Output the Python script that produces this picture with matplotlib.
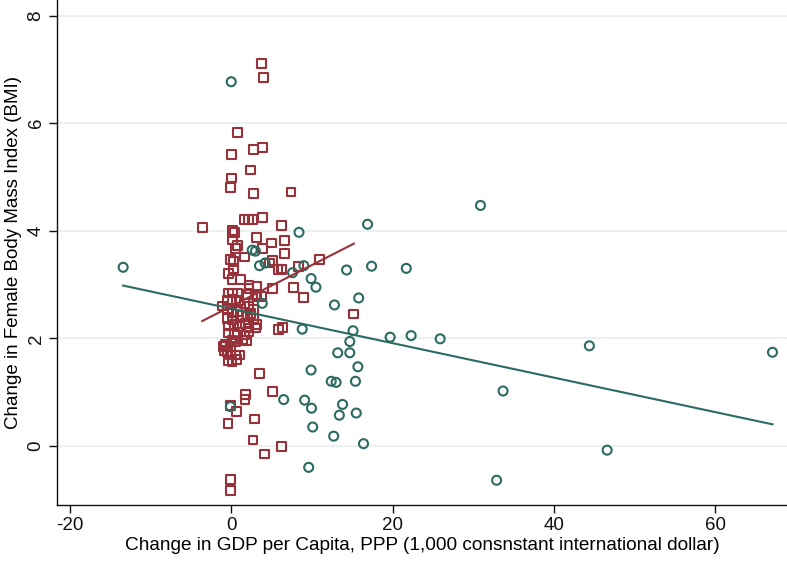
import matplotlib
matplotlib.use("Agg")
import matplotlib.pyplot as plt
import numpy as np

plt.rcParams['font.family'] = ['Liberation Sans', 'DejaVu Sans']
plt.rcParams['axes.unicode_minus'] = False

# Group A (red squares): change in GDP per capita, change in female BMI
sq_x = [3.8, 4.0,
        0.8, 0.0, 2.8, 3.9, 2.35, 0.05, -0.1, 2.8, 7.4,
        1.6, 2.1, 2.6, 3.85, -3.6, 6.2,
        0.2, 0.4, 3.1, 0.2, 6.6, 0.8, 5.0, 3.9, 6.6, 1.6, 0.55,
        -0.1, 0.3, 5.1, 4.7, 10.9, 8.3, 6.3,
        0.3, -0.3, 5.8, 6.2,
        0.1, 1.15, 2.2, 3.2, 2.2, 5.1, 7.7, 9.0, 3.0,
        -0.3, 0.2, 0.75, 2.0, 3.2, 3.8,
        -0.5, 0.1, 0.95, 1.6, 2.2, 2.8, -1.1, -0.5,
        0.1, 0.75, 1.4, 2.0, 2.4, 15.2, 2.8,
        -0.5, 0.1, -0.3, 0.35, 1.0, 1.8, 2.2, 3.0, 3.2, 5.9, 6.4,
        -0.3, 0.4, 0.8, 1.6, 2.2,
        0.1, 0.5, 1.4, 1.9,
        -0.7, -0.1, -0.9, -0.5, -0.95,
        -0.1, 0.5, 1.0, -0.3, 0.1, 0.7,
        3.5, 5.1, 1.8, 1.7, -0.1, 0.7, -0.4, 2.9, 2.7, 4.1, 6.2, -0.1, -0.1]
sq_y = [7.11, 6.85,
        5.82, 5.41, 5.51, 5.55, 5.13, 4.98, 4.81, 4.69, 4.72,
        4.21, 4.21, 4.21, 4.25, 4.06, 4.09,
        4.01, 3.96, 3.88, 3.83, 3.82, 3.72, 3.77, 3.67, 3.58, 3.51, 3.67,
        3.46, 3.43, 3.44, 3.40, 3.46, 3.34, 3.29,
        3.30, 3.21, 3.28, 3.28,
        3.10, 3.10, 2.99, 2.96, 2.93, 2.93, 2.94, 2.76, 2.82,
        2.84, 2.84, 2.84, 2.81, 2.78, 2.78,
        2.70, 2.72, 2.70, 2.65, 2.59, 2.53, 2.60, 2.56,
        2.47, 2.50, 2.43, 2.40, 2.46, 2.45, 2.37,
        2.37, 2.34, 2.23, 2.25, 2.22, 2.28, 2.19, 2.19, 2.25, 2.16, 2.20,
        2.10, 2.07, 2.11, 2.06, 2.12,
        1.97, 1.94, 1.97, 1.96,
        1.88, 1.85, 1.78, 1.75, 1.85,
        1.69, 1.69, 1.69, 1.59, 1.57, 1.60,
        1.35, 1.01, 0.95, 0.86, 0.75, 0.64, 0.41, 0.50, 0.11, -0.15, -0.01, -0.63, -0.83]

# Group B (teal circles)
ci_x = [-13.4, 0.0, 30.9, 44.4, 67.1, 33.7, 46.6, 32.9,
        16.9, 8.4, 9.0, 7.6, 9.9, 10.5, 14.3, 17.4, 21.7, 15.8, 12.8, 8.8,
        15.1, 14.7, 19.7, 22.3, 25.9, 13.2, 14.7, 15.7, 9.9, 12.4, 13.0, 15.4,
        6.5, 9.1, 9.95, 13.8, 13.4, 15.5, 10.1, 12.7, 16.4, 9.6,
        2.6, 3.0, 3.5, 4.2, 3.85, -0.1]
ci_y = [3.32, 6.77, 4.47, 1.86, 1.74, 1.02, -0.08, -0.64,
        4.12, 3.97, 3.35, 3.22, 3.11, 2.95, 3.27, 3.34, 3.30, 2.75, 2.62, 2.17,
        2.14, 1.94, 2.02, 2.05, 1.99, 1.73, 1.73, 1.47, 1.41, 1.20, 1.18, 1.20,
        0.86, 0.85, 0.70, 0.77, 0.57, 0.61, 0.35, 0.18, 0.04, -0.40,
        3.64, 3.62, 3.35, 3.40, 2.65, 0.73]

# Fitted lines (endpoints)
fit_sq_x = [-3.6, 15.2]
fit_sq_y = [2.32, 3.76]
fit_ci_x = [-13.4, 67.1]
fit_ci_y = [2.98, 0.40]

x_ticks = [-20, 0, 20, 40, 60]
y_ticks = [0, 2, 4, 6, 8]

RED = '#983139'
TEAL = '#2c6b61'

fig = plt.figure(figsize=(7.87, 5.61), dpi=100)
ax = fig.add_axes([57/787, 56/561, 730/787, 505/561])

for yt in y_ticks:
    ax.axhline(yt, color='#eaf1f2', lw=1.4, zorder=0)

ax.scatter(sq_x, sq_y, marker='s', s=40, facecolors='none', edgecolors=RED,
           linewidths=1.5, zorder=3)
ax.scatter(ci_x, ci_y, marker='o', s=42, facecolors='none', edgecolors=TEAL,
           linewidths=1.5, zorder=3)
ax.plot(fit_ci_x, fit_ci_y, color=TEAL, lw=1.5, zorder=4)
ax.plot(fit_sq_x, fit_sq_y, color=RED, lw=1.5, zorder=4)

ax.set_xlim(-21.6, 68.9)
ax.set_ylim(-1.1, 8.29)
ax.set_xticks(x_ticks)
ax.set_yticks(y_ticks)
ax.set_yticklabels([str(v) for v in y_ticks], rotation=90, va='center')
ax.tick_params(direction='out', length=6, width=1, colors='#111111',
               labelsize=13.5, pad=3)
for s in ['top', 'right']:
    ax.spines[s].set_visible(False)
for s in ['left', 'bottom']:
    ax.spines[s].set_color('#111111')
    ax.spines[s].set_linewidth(1.0)

ax.set_xlabel('Change in GDP per Capita, PPP (1,000 consnstant international dollar)',
              fontsize=13.7, labelpad=2)
ax.set_ylabel('Change in Female Body Mass Index (BMI)', fontsize=13.5, labelpad=4)

fig.savefig('out.png', dpi=100)
